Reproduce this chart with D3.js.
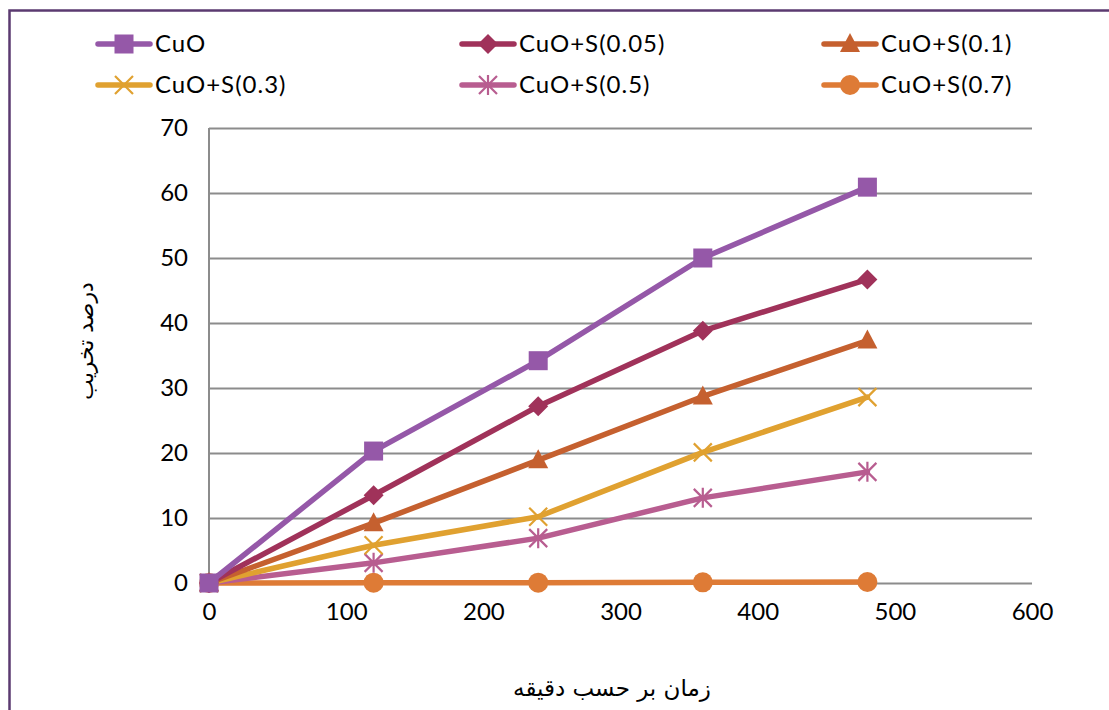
<!DOCTYPE html>
<html>
<head>
<meta charset="utf-8">
<script src="https://cdn.jsdelivr.net/npm/d3@7"></script>
<style>
  html, body { margin: 0; padding: 0; background: #fff; }
  svg { display: block; }
</style>
</head>
<body>
<svg id="chart" width="1109" height="710"></svg>
<script>
// Degradation (%) over time (minutes) for CuO and sulfur-doped CuO samples
const times = [0, 120, 240, 360, 480];
const seriesNames = ["CuO", "CuO+S(0.05)", "CuO+S(0.1)", "CuO+S(0.3)", "CuO+S(0.5)", "CuO+S(0.7)"];
const cuo     = [0, 20.3, 34.2, 50.0, 60.9];
const cuoS005 = [0, 13.5, 27.2, 38.8, 46.7];
const cuoS01  = [0, 9.2, 18.9, 28.7, 37.3];
const cuoS03  = [0, 5.8, 10.2, 20.1, 28.6];
const cuoS05  = [0, 3.1, 6.9, 13.1, 17.1];
const cuoS07  = [0, 0.05, 0.05, 0.1, 0.15];
const xTicks = [0, 100, 200, 300, 400, 500, 600];
const yTicks = [0, 10, 20, 30, 40, 50, 60, 70];
const xTitle = "زمان بر حسب دقیقه";
const yTitle = "درصد تخریب";

const seriesValues = [cuo, cuoS005, cuoS01, cuoS03, cuoS05, cuoS07];
const colors = ["#9558a8", "#a0325a", "#c5602f", "#e0a130", "#b85d90", "#de7b36"];
const markers = ["square", "diamond", "triangle", "x", "star", "circle"];

const svg = d3.select("#chart");
const latin = "Lato, 'Open Sans', 'DejaVu Sans', sans-serif";
const arabic = "'DejaVu Sans', sans-serif";

// outer frame
svg.append("rect")
  .attr("x", 9.5).attr("y", 10.5)
  .attr("width", 1200).attr("height", 800)
  .attr("fill", "none").attr("stroke", "#5b3a70").attr("stroke-width", 2.5);

const x = d3.scaleLinear().domain([0, 600]).range([209, 1032]);
const y = d3.scaleLinear().domain([0, 70]).range([583, 128]);

// horizontal gridlines
const grid = svg.append("g")
  .attr("transform", `translate(${x(0)},0)`)
  .call(d3.axisLeft(y).tickValues(yTicks).tickSize(-(x(600) - x(0))).tickFormat(""));
grid.select(".domain").remove();
grid.selectAll("line").attr("stroke", "#8c8c8c").attr("stroke-width", 2);

// y axis line
svg.append("line")
  .attr("x1", x(0)).attr("x2", x(0)).attr("y1", y(70)).attr("y2", y(0))
  .attr("stroke", "#8c8c8c").attr("stroke-width", 2);

// y tick labels
const yAxis = svg.append("g")
  .attr("transform", `translate(${x(0)},0)`)
  .call(d3.axisLeft(y).tickValues(yTicks).tickSize(0).tickPadding(21));
yAxis.select(".domain").remove();
yAxis.selectAll("text")
  .attr("font-family", latin).attr("font-size", 24).attr("fill", "#000");

// x tick labels
const xAxis = svg.append("g")
  .attr("transform", `translate(0,${y(0)})`)
  .call(d3.axisBottom(x).tickValues(xTicks).tickSize(0).tickPadding(20));
xAxis.select(".domain").remove();
xAxis.selectAll("text")
  .attr("font-family", latin).attr("font-size", 24).attr("fill", "#000");

// axis titles
svg.append("text")
  .attr("x", 612).attr("y", 696)
  .attr("text-anchor", "middle")
  .attr("direction", "rtl")
  .attr("font-family", arabic).attr("font-size", 23).attr("fill", "#000")
  .text(xTitle);

svg.append("text")
  .attr("transform", "translate(93,341) rotate(-90)")
  .attr("text-anchor", "middle")
  .attr("direction", "rtl")
  .attr("font-family", arabic).attr("font-size", 22).attr("fill", "#000")
  .text(yTitle);

// marker drawing
function drawMarker(g, type, color, cx, cy) {
  if (type === "square") {
    g.append("rect").attr("x", cx - 9.5).attr("y", cy - 9.5).attr("width", 19).attr("height", 19)
      .attr("fill", color);
  } else if (type === "diamond") {
    g.append("path").attr("d", `M${cx},${cy - 10}L${cx + 10},${cy}L${cx},${cy + 10}L${cx - 10},${cy}Z`)
      .attr("fill", color);
  } else if (type === "triangle") {
    g.append("path").attr("d", `M${cx},${cy - 11}L${cx + 10},${cy + 8}L${cx - 10},${cy + 8}Z`)
      .attr("fill", color);
  } else if (type === "circle") {
    g.append("circle").attr("cx", cx).attr("cy", cy).attr("r", 10).attr("fill", color);
  } else if (type === "x") {
    g.append("path").attr("d", `M${cx - 9},${cy - 9}L${cx + 9},${cy + 9}M${cx - 9},${cy + 9}L${cx + 9},${cy - 9}`)
      .attr("stroke", color).attr("stroke-width", 2.2).attr("fill", "none");
  } else if (type === "star") {
    g.append("path").attr("d", `M${cx - 9},${cy - 9}L${cx + 9},${cy + 9}M${cx - 9},${cy + 9}L${cx + 9},${cy - 9}M${cx},${cy - 10}L${cx},${cy + 10}`)
      .attr("stroke", color).attr("stroke-width", 2.2).attr("fill", "none");
  }
}

const line = d3.line().x((d, i) => x(times[i])).y(d => y(d));

// series lines and markers, drawn so earlier series sit on top
for (let s = seriesValues.length - 1; s >= 0; s--) {
  const g = svg.append("g");
  g.append("path")
    .datum(seriesValues[s])
    .attr("d", line)
    .attr("fill", "none")
    .attr("stroke", colors[s])
    .attr("stroke-width", 5.5)
    .attr("stroke-linejoin", "round")
    .attr("stroke-linecap", "round");
  seriesValues[s].forEach((v, i) => drawMarker(g, markers[s], colors[s], x(times[i]), y(v)));
}

// legend
const legendCols = [98, 462, 824];
const legendRows = [44, 85];
seriesNames.forEach((name, i) => {
  const lx = legendCols[i % 3];
  const ly = legendRows[Math.floor(i / 3)];
  const g = svg.append("g");
  g.append("line")
    .attr("x1", lx).attr("x2", lx + 52).attr("y1", ly).attr("y2", ly)
    .attr("stroke", colors[i]).attr("stroke-width", 5.5).attr("stroke-linecap", "round");
  drawMarker(g, markers[i], colors[i], lx + 26, ly);
  g.append("text")
    .attr("x", lx + 57).attr("y", ly + 8)
    .attr("font-family", latin).attr("font-size", 24).attr("letter-spacing", 1)
    .attr("fill", "#000")
    .text(name);
});
</script>
</body>
</html>
